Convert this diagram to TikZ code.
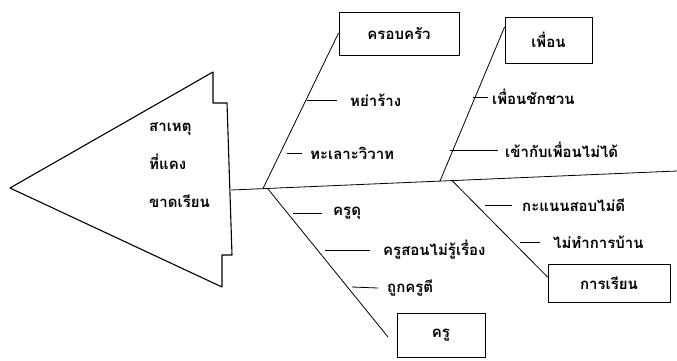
\documentclass[tikz,border=0pt]{standalone}
\usepackage{fontspec}
\newfontfamily\thaifont[Script=Thai]{Loma}
\begin{document}
\begin{tikzpicture}[x=1pt,y=-1pt,
  every node/.style={font=\thaifont\bfseries\fontsize{15}{18}\selectfont},
  ln/.style={line width=0.8pt,black},
  catbox/.style={draw,line width=0.9pt,minimum width=#1,minimum height=44pt,inner sep=0pt},
  lbl/.style={anchor=west,inner sep=0pt}]
\useasboundingbox (0,0) rectangle (677,360);
% head triangle
\draw[line width=1.1pt,line join=round] (10,188) -- (213,72) -- (213,103) -- (227,103) -- (232,255) -- (222,255) -- (222,287) -- cycle;
\node[align=left,anchor=north west,inner sep=0pt,font=\thaifont\bfseries\fontsize{15}{38}\selectfont] (head) at (149,122) {สาเหตุ\\ที่แคง\\ขาดเรียน};
% spine
\coordinate (s0) at (231,190);
\coordinate (s1) at (677,171);
\draw[ln] (s0) -- (s1);
% boxes
\node[catbox=120pt,minimum height=43pt] (fam) at (399,33.5) {ครอบครัว};
\node[catbox=87pt,minimum height=46pt] (fri) at (548.5,40) {เพื่อน};
\node[catbox=88pt,minimum height=44pt] (tea) at (441,335) {ครู};
\node[catbox=122pt,minimum height=38pt] (stu) at (609,283) {การเรียน};
% branch base points on spine
\coordinate (b1) at (263,188.5);
\coordinate (b2) at (440,181);
\coordinate (b3) at (268,189);
\coordinate (b4) at (452,180.5);
\coordinate (e3) at (388,337);
\draw[ln] (b1) -- (fam.west |- 0,33);
\draw[ln] (b2) -- (fri.west |- 0,27);
\draw[ln] (b3) -- (e3);
\draw[ln] (b4) -- (stu.west |- 0,277);
% labels
\node[lbl] (l1) at (350,100) {หย่าร้าง};
\node[lbl] (l2) at (310,153) {ทะเลาะวิวาท};
\node[lbl] (l3) at (492,97) {เพื่อนชักชวน};
\node[lbl] (l4) at (505,150) {เข้ากับเพื่อนไม่ได้};
\node[lbl] (l5) at (333,213) {ครูดุ};
\node[lbl] (l6) at (383,250) {ครูสอนไม่รู้เรื่อง};
\node[lbl] (l7) at (387,288) {ถูกครูตี};
\node[lbl] (l8) at (522,205) {กะแนนสอบไม่ดี};
\node[lbl] (l9) at (553,242) {ไม่ทำการบ้าน};
% ticks
\coordinate (t1) at (307,100); \coordinate (t2) at (287,153);
\coordinate (t3) at (473,97);  \coordinate (t4) at (450,150);
\coordinate (t5) at (293,213); \coordinate (t6) at (325,250);
\coordinate (t7) at (352,287); \coordinate (t8) at (485,205);
\coordinate (t9) at (520,242);
\draw[ln] (t1) -- ([xshift=-13pt]l1.west);
\draw[ln] (t2) -- ([xshift=-8pt]l2.west);
\draw[ln] (t3) -- ([xshift=-4pt]l3.west);
\draw[ln] (t4) -- ([xshift=-7pt]l4.west);
\draw[ln] (t5) -- ([xshift=-11pt]l5.west);
\draw[ln] (t6) -- ([xshift=-13pt]l6.west);
\draw[ln] (t7) -- ([xshift=-9pt]l7.west);
\draw[ln] (t8) -- ([xshift=-10pt]l8.west);
\draw[ln] (t9) -- ([xshift=-13pt]l9.west);
\end{tikzpicture}
\end{document}
